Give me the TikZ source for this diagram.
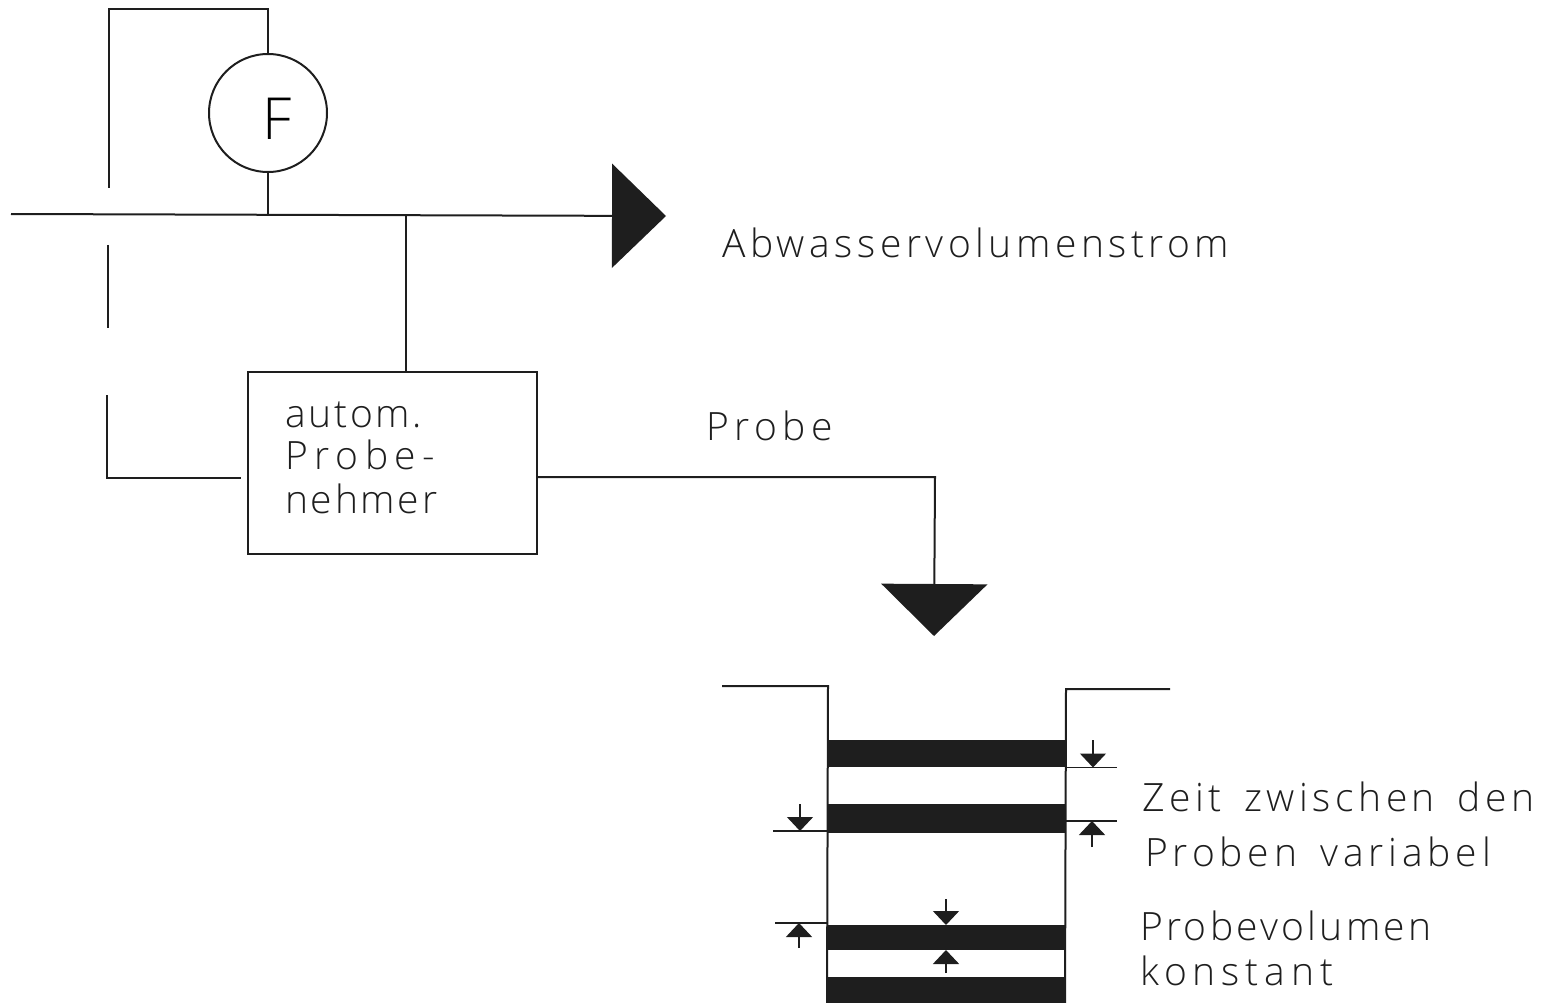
\documentclass[tikz,border=0pt]{standalone}
\usepackage{fontspec}
\usepackage{tikz}
\usetikzlibrary{arrows.meta,positioning}
\setmainfont{Open Sans Light}
\newcommand{\spc}[2]{{\addfontfeature{LetterSpace=#1}#2}}
\definecolor{ink}{RGB}{30,30,30}
\tikzset{
  line/.style={draw=ink,line width=2pt},
  flow/.style={line,-{Triangle[length=54pt,width=104pt]}},
  drop/.style={line,-{Triangle[length=52pt,width=106pt]}},
  dimarr/.style={line width=1.5pt,draw=ink,-{Triangle[length=14pt,width=26pt]}},
  bar/.style={fill=ink,minimum width=238pt,inner sep=0pt,anchor=north west},
  lbl/.style={font=\fontsize{39pt}{44pt}\selectfont,text=ink,inner sep=0pt,anchor=base west},
}
\begin{document}
\begin{tikzpicture}[x=1pt,y=-1pt]
  \useasboundingbox (0,0) rectangle (1548,1003);
  % meter and sampler
  \node[line,circle,minimum size=118pt,inner sep=0pt,
    font=\fontsize{58pt}{60pt}\selectfont] (meter) at (268,113) {\kern18pt\raisebox{-27pt}[0pt][0pt]{F}};
  \node[line,minimum width=289pt,minimum height=182pt,inner sep=0pt] (sampler) at (392.5,463) {};
  \node[lbl] (autom) at (285,427) {\spc{7}{autom.}};
  \node[lbl] (probe) at (285,469) {\spc{17}{Probe-}};
  \node[lbl] (nehmer) at (285,513) {\spc{7}{nehmer}};
  % main flow
  \coordinate (inlet) at (11,214);
  \coordinate (tip) at (666,216);
  \coordinate (tap) at (268,214);
  \coordinate (branch) at (406,215);
  \draw[flow] (inlet) -- (tip);
  \draw[line] (meter) -- (tap);
  \draw[line] (branch) -- (branch |- sampler.north);
  \node[lbl,anchor=base west] (flowlbl) at (722,258) {\spc{11.5}{Abwasservolumenstrom}};
  % signal line, broken where it crosses
  \coordinate (sigA) at (109,188);
  \coordinate (sigB) at (109,9);
  \coordinate (sigC) at (268,9);
  \coordinate (sigD) at (108,245);
  \coordinate (sigE) at (108,328);
  \coordinate (sigF) at (107,395);
  \coordinate (sigG) at (107,478);
  \coordinate (sigH) at (241,478);
  \draw[line] (sigA) -- (sigB) -- (sigC) -- (meter);
  \draw[line] (sigD) -- (sigE);
  \draw[line] (sigF) -- (sigG) -- (sigH);
  % sample outlet
  \coordinate (outA) at (537,477);
  \coordinate (outB) at (935,477);
  \coordinate (outC) at (934,636);
  \draw[drop] (outA) -- (outB) -- (outC);
  \node[lbl] (samplelbl) at (706,440) {\spc{14}{Probe}};
  % vessel
  \coordinate (rimLa) at (722,686);
  \coordinate (rimLb) at (828,686);
  \coordinate (rimLc) at (827,1003);
  \coordinate (rimRa) at (1170,689);
  \coordinate (rimRb) at (1066,689);
  \coordinate (rimRc) at (1065,1003);
  \draw[line] (rimLa) -- (rimLb) -- (rimLc);
  \draw[line] (rimRa) -- (rimRb) -- (rimRc);
  \node[bar,minimum height=27pt] (bar1) at (828,740) {};
  \node[bar,minimum height=29pt] (bar2) at (828,804) {};
  \node[bar,minimum height=25pt] (bar3) at (827,925) {};
  \node[bar,minimum height=26pt] (bar4) at (827,977) {};
  % marks
  \foreach \name/\xa/\ya/\xb/\yb in {a/1065/767.5/1117/767.5,b/1065/821/1117/821,
      c/773/831/827/831,d/775/923/827/923}{
    \coordinate (tick\name s) at (\xa,\ya);
    \coordinate (tick\name e) at (\xb,\yb);
    \draw[line width=1.5pt,draw=ink] (tick\name s) -- (tick\name e);
  }
  \foreach \name/\x/\ya/\yb in {a/1093/740/767.5,b/1092/847/821,c/800/804/831,
      d/799/948/923,e/946/899/925,f/946/973/950}{
    \coordinate (arr\name s) at (\x,\ya);
    \coordinate (arr\name e) at (\x,\yb);
    \draw[dimarr] (arr\name s) -- (arr\name e);
  }
  % notes
  \node[lbl] (notea) at (1142,811) {\spc{11.6}{Zeit\hspace{8pt} zwischen\hspace{8pt} den}};
  \node[lbl] (noteb) at (1145,866) {\spc{12.5}{Proben\hspace{8pt} variabel}};
  \node[lbl] (notec) at (1140,940) {\spc{8.4}{Probevolumen}};
  \node[lbl] (noted) at (1140,985) {\spc{15}{konstant}};
\end{tikzpicture}
\end{document}
